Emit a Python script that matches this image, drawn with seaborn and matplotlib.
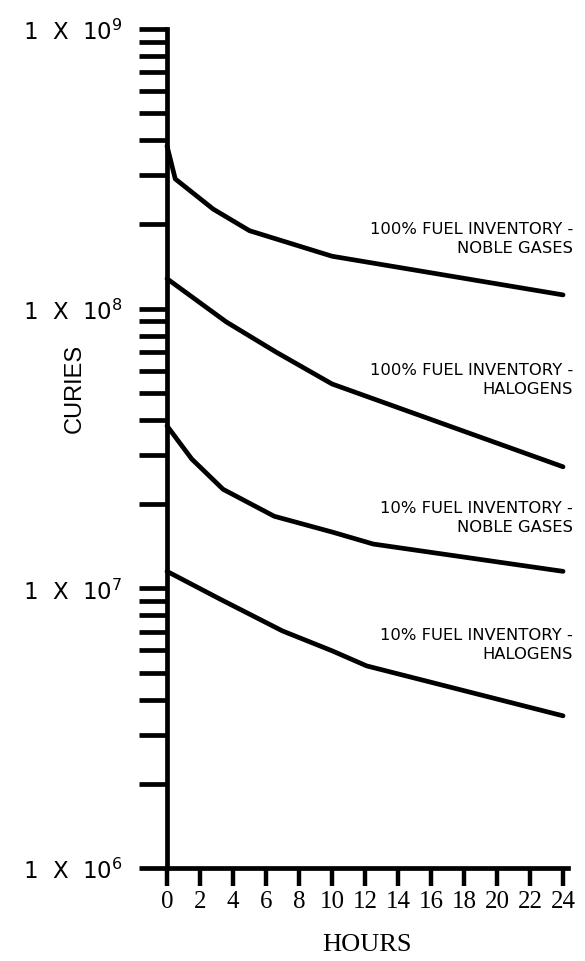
import numpy as np
import pandas as pd
import matplotlib

matplotlib.use("Agg")
import matplotlib.pyplot as plt
import matplotlib.ticker as mticker
import seaborn as sns

# Values (hours, curies)
hours_noble_100 = [0, 0.5, 2.8, 5, 10, 24]
curies_noble_100 = [3.82e8, 2.91e8, 2.27e8, 1.90e8, 1.54e8, 1.12e8]

hours_halo_100 = [0, 3.6, 6.6, 10, 24]
curies_halo_100 = [1.28e8, 8.96e7, 7.0e7, 5.38e7, 2.72e7]

hours_noble_10 = [0, 1.5, 3.4, 6.5, 10, 12.5, 24]
curies_noble_10 = [3.81e7, 2.90e7, 2.26e7, 1.81e7, 1.59e7, 1.44e7, 1.15e7]

hours_halo_10 = [0, 3.2, 7.0, 10, 12.1, 24]
curies_halo_10 = [1.15e7, 9.16e6, 7.04e6, 5.98e6, 5.28e6, 3.50e6]

series_labels = [
    "100% FUEL INVENTORY -\nNOBLE GASES",
    "100% FUEL INVENTORY -\nHALOGENS",
    "10% FUEL INVENTORY -\nNOBLE GASES",
    "10% FUEL INVENTORY -\nHALOGENS",
]

x_ticks = list(range(0, 25, 2))
y_decades = [1e6, 1e7, 1e8, 1e9]
y_tick_labels = [r"1  X  10$^{6}$", r"1  X  10$^{7}$", r"1  X  10$^{8}$", r"1  X  10$^{9}$"]

frames = []
for lab, h, c in zip(
    series_labels,
    [hours_noble_100, hours_halo_100, hours_noble_10, hours_halo_10],
    [curies_noble_100, curies_halo_100, curies_noble_10, curies_halo_10],
):
    frames.append(pd.DataFrame({"hours": h, "curies": c, "series": lab}))
df = pd.concat(frames, ignore_index=True)

sns.set_style("ticks")
plt.rcParams["mathtext.fontset"] = "dejavusans"
plt.rcParams["text.color"] = "black"
plt.rcParams["axes.labelcolor"] = "black"
plt.rcParams["xtick.color"] = "black"
plt.rcParams["ytick.color"] = "black"

fig = plt.figure(figsize=(5.85, 9.62), dpi=100)
ax = fig.add_axes([167 / 585, 93 / 962, 401 / 585, 839 / 962])

sns.lineplot(
    data=df, x="hours", y="curies", hue="series",
    palette=["black"] * 4, estimator=None, sort=False,
    linewidth=3.4, legend=False, ax=ax,
)
for ln in ax.lines:
    ln.set_clip_on(False)

ax.set_yscale("log")
ax.set_ylim(1e6, 1e9)
ax.set_xlim(0, 24.3)

ax.set_xticks(x_ticks)
ax.set_xticklabels([str(t) for t in x_ticks], family="Liberation Serif", fontsize=18)
ax.yaxis.set_major_locator(mticker.FixedLocator(y_decades))
ax.yaxis.set_minor_locator(mticker.LogLocator(base=10, subs=np.arange(2, 10)))
ax.yaxis.set_minor_formatter(mticker.NullFormatter())
ax.set_yticklabels(y_tick_labels, fontsize=16.5, family="DejaVu Sans")

ax.tick_params(axis="y", which="both", left=True, direction="out", length=20,
               width=3.4, pad=12, color="black", labelcolor="black")
ax.tick_params(axis="x", which="major", bottom=True, direction="out", length=13,
               width=3.2, pad=3, color="black", labelcolor="black")

for side in ["top", "right"]:
    ax.spines[side].set_visible(False)
for side in ["left", "bottom"]:
    ax.spines[side].set_linewidth(3.4)
    ax.spines[side].set_color("black")

ax.set_xlabel("HOURS", family="Liberation Serif", fontsize=19)
ax.xaxis.set_label_coords(0.499, -0.078)
ax.set_ylabel("CURIES", family=["Liberation Sans Narrow", "Liberation Sans"], fontsize=17)
ax.yaxis.set_label_coords(-0.202, 0.573)

# curve annotations (axes fraction positions)
label_y = [0.751, 0.583, 0.418, 0.267]
for lab, yy in zip(series_labels, label_y):
    ax.text(1.012, yy, lab, transform=ax.transAxes, ha="right", va="center",
            multialignment="right", fontsize=11.8, family="DejaVu Sans",
            linespacing=1.35, clip_on=False)

fig.savefig("out.png", dpi=100, facecolor="white")
